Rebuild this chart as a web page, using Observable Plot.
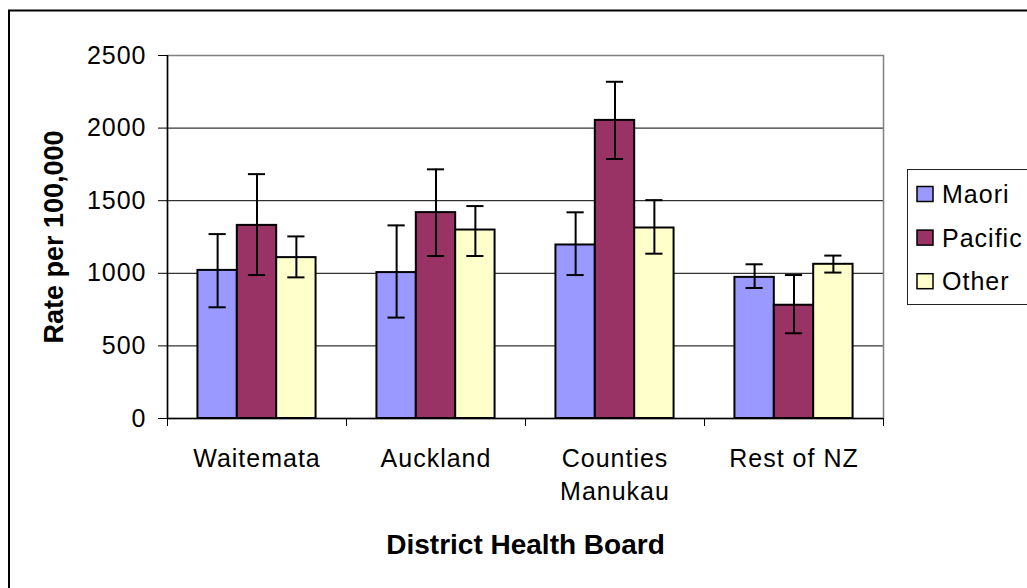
<!DOCTYPE html>
<html>
<head>
<meta charset="utf-8">
<script src="https://cdn.jsdelivr.net/npm/d3@7"></script>
<script src="https://cdn.jsdelivr.net/npm/@observablehq/plot@0.6"></script>
<style>
html, body { margin: 0; padding: 0; background: #fff; }
#chart { position: relative; width: 1027px; height: 588px; overflow: hidden; }
</style>
</head>
<body>
<div id="chart"></div>
<script>
// ---- Data ----
const categories = ["Waitemata", "Auckland", "Counties Manukau", "Rest of NZ"];
const categoryLabels = ["Waitemata", "Auckland", "Counties\nManukau", "Rest of NZ"];
const series = ["Maori", "Pacific", "Other"];
const colors = ["#9999FF", "#993366", "#FFFFCC"];

const maoriRate = [1020, 1005, 1195, 972];
const maoriLow = [766, 695, 988, 899];
const maoriHigh = [1270, 1330, 1420, 1062];

const pacificRate = [1330, 1418, 2053, 780];
const pacificLow = [988, 1119, 1787, 587];
const pacificHigh = [1683, 1716, 2319, 988];

const otherRate = [1108, 1298, 1312, 1062];
const otherLow = [972, 1119, 1135, 1005];
const otherHigh = [1254, 1463, 1504, 1122];

const yTicks = [0, 500, 1000, 1500, 2000, 2500];
const xTitle = "District Health Board";
const yTitle = "Rate per 100,000";

// ---- Table built from the arrays ----
const rates = [maoriRate, pacificRate, otherRate];
const lows = [maoriLow, pacificLow, otherLow];
const highs = [maoriHigh, pacificHigh, otherHigh];
const groupPad = 0.17, barW = 0.22, capHalf = 0.048;
const rows = [];
categories.forEach((c, i) => {
  series.forEach((s, j) => {
    const x1 = i + groupPad + j * barW;
    rows.push({dhb: c, series: s, value: rates[j][i], lo: lows[j][i], hi: highs[j][i],
               x1, x2: x1 + barW, xc: x1 + barW / 2});
  });
});
const boundaries = d3.range(categories.length + 1);

const plot = Plot.plot({
  width: 1027,
  height: 588,
  marginLeft: 167,
  marginRight: 144,
  marginTop: 55,
  marginBottom: 170,
  style: {
    fontFamily: '"Liberation Sans", Arial, sans-serif',
    fontSize: "25px",
    letterSpacing: "1px",
    color: "#000",
    background: "#fff"
  },
  x: {domain: [0, categories.length], axis: null},
  y: {domain: [0, 2500], axis: null},
  color: {domain: series, range: colors},
  marks: [
    Plot.gridY(yTicks.slice(1, -1), {stroke: "#000", strokeOpacity: 1, strokeWidth: 1}),
    Plot.frame({stroke: "#808080", strokeWidth: 1.5}),
    Plot.rect(rows, {x1: "x1", x2: "x2", y1: 0, y2: "value", fill: "series", stroke: "#000", strokeWidth: 2}),
    Plot.ruleX(rows, {x: "xc", y1: "lo", y2: "hi", stroke: "#000", strokeWidth: 2}),
    Plot.ruleY(rows, {y: "hi", x1: d => d.xc - capHalf, x2: d => d.xc + capHalf, stroke: "#000", strokeWidth: 2}),
    Plot.ruleY(rows, {y: "lo", x1: d => d.xc - capHalf, x2: d => d.xc + capHalf, stroke: "#000", strokeWidth: 2}),
    Plot.ruleX([0], {stroke: "#000", strokeWidth: 1.5}),
    Plot.ruleY([0], {stroke: "#000", strokeWidth: 1.5}),
    Plot.axisY(yTicks, {tickSize: 9, tickPadding: 12, tickFormat: d => String(d), label: null}),
    Plot.axisX(boundaries, {tickSize: 8, tickFormat: () => "", label: null}),
    Plot.text(categoryLabels, {x: (d, i) => i + 0.5, frameAnchor: "bottom", dy: 25, lineAnchor: "top", textAnchor: "middle", lineHeight: 1.32, text: d => d}),
    Plot.text([yTitle], {frameAnchor: "left", dx: -113, rotate: -90, textAnchor: "middle", lineAnchor: "middle", fontWeight: "bold", fontSize: 27, text: d => d}),
    Plot.text([xTitle], {frameAnchor: "bottom", dy: 127, textAnchor: "middle", lineAnchor: "middle", fontWeight: "bold", fontSize: 28, text: d => d})
  ]
});

const svg = d3.select(plot);
svg.selectAll("text")
  .filter(function() { return this.textContent === xTitle || this.textContent === yTitle; })
  .attr("letter-spacing", 0);

// Outer chart border
svg.insert("rect", ":first-child")
  .attr("x", 9).attr("y", 10.5).attr("width", 1100).attr("height", 700)
  .attr("fill", "none").attr("stroke", "#000").attr("stroke-width", 2);

// Legend
const color = plot.scale("color");
const lg = svg.append("g").attr("class", "legend");
lg.append("rect")
  .attr("x", 907.5).attr("y", 169.5).attr("width", 200).attr("height", 135)
  .attr("fill", "#fff").attr("stroke", "#222").attr("stroke-width", 1);
series.forEach((s, j) => {
  const cy = 194 + j * 43.6;
  lg.append("rect")
    .attr("x", 917).attr("y", cy - 7.5).attr("width", 16).attr("height", 15)
    .attr("fill", color.apply(s)).attr("stroke", "#000").attr("stroke-width", 1.5);
  lg.append("text")
    .attr("x", 942).attr("y", cy + 9)
    .attr("text-anchor", "start")
    .attr("font-size", 25).attr("letter-spacing", "1px")
    .text(s);
});

document.getElementById("chart").appendChild(plot);
</script>
</body>
</html>
